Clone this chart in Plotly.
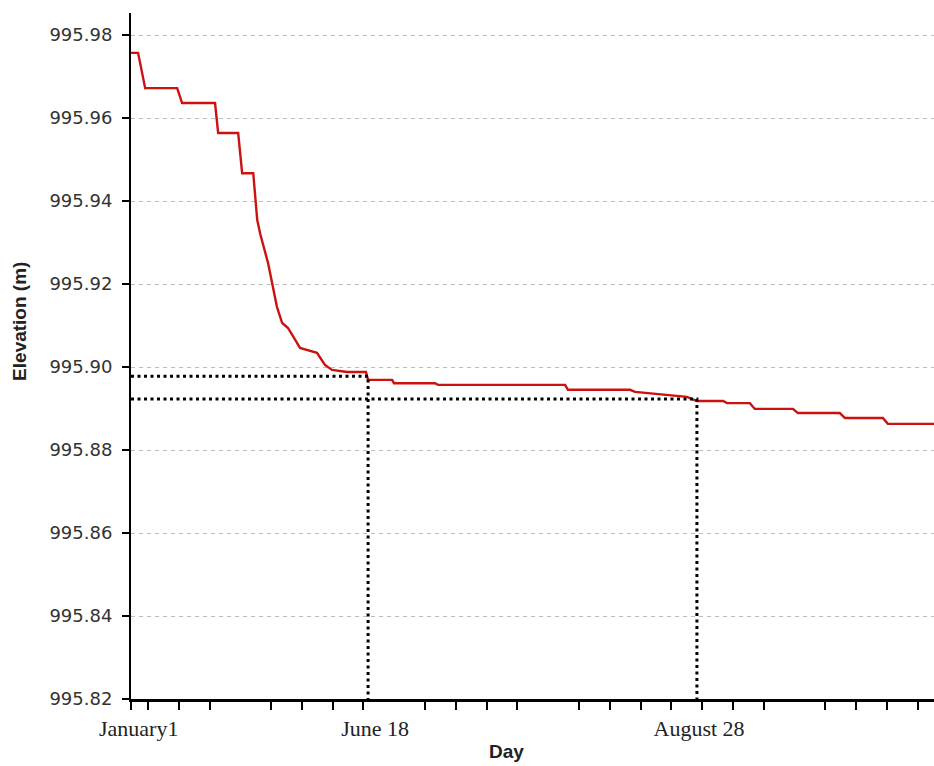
import plotly.graph_objects as go

# Reservoir elevation over the simulated days
days = [4.5, 6.8, 9.1, 19.5, 21.1, 31.8, 32.8, 39.3, 40.6, 44.2, 45.5, 46.5, 49.0, 51.9,
        53.6, 55.5, 59.4, 64.9, 67.5, 69.8, 74.7, 80.8, 81.5, 89.3, 89.9, 103.2, 104.2,
        145.5, 146.4, 166.6, 168.2, 177.3, 185.1, 188.3, 196.8, 198.1, 205.5, 207.1,
        219.5, 221.1, 234.7, 236.4, 248.7, 250.3, 265.3]
elevation = [995.9757, 995.9757, 995.9672, 995.9672, 995.9636, 995.9636, 995.9564,
             995.9564, 995.9467, 995.9467, 995.9354, 995.9320, 995.9251, 995.9145,
             995.9106, 995.9094, 995.9046, 995.9034, 995.9005, 995.8993, 995.8988,
             995.8988, 995.8969, 995.8969, 995.8961, 995.8961, 995.8957, 995.8957,
             995.8945, 995.8945, 995.8940, 995.8933, 995.8928, 995.8918, 995.8918,
             995.8913, 995.8913, 995.8899, 995.8899, 995.8889, 995.8889, 995.8877,
             995.8877, 995.8863, 995.8863]

marker_days = [81.5, 188.3]
marker_elev = [995.8978, 995.8923]

# Axis ticks
x_label_vals = [7.0, 83.8, 189.0]
x_label_text = ["January1", "June 18", "August 28"]
x_minor_vals = [4.6, 10, 20, 30, 50, 60, 70, 80, 100, 110, 120, 130, 150, 160, 170,
                180, 190, 200, 210, 230, 240, 250, 260]
y_tick_vals = [995.82, 995.84, 995.86, 995.88, 995.90, 995.92, 995.94, 995.96, 995.98]

x_range = [4.5, 265.3]
y_range = [995.82, 995.9853]

fig = go.Figure()

fig.add_trace(go.Scatter(
    x=days, y=elevation, mode="lines",
    line=dict(color="#cc1111", width=2.4),
    hoverinfo="skip", showlegend=False,
))

for d, e in zip(marker_days, marker_elev):
    fig.add_trace(go.Scatter(
        x=[x_range[0], d, d], y=[e, e, y_range[0]], mode="lines",
        line=dict(color="black", width=3, dash="3px,3.5px"),
        hoverinfo="skip", showlegend=False, cliponaxis=False,
    ))

fig.update_layout(
    width=934, height=766,
    margin=dict(l=131, r=0, t=13, b=67),
    paper_bgcolor="white", plot_bgcolor="white",
    xaxis=dict(
        range=x_range, showgrid=False, zeroline=False,
        showline=True, linecolor="black", linewidth=3,
        tickmode="array", tickvals=x_label_vals, ticktext=x_label_text,
        ticks="", ticklabelstandoff=8,
        tickfont=dict(family="Liberation Serif", size=22, color="#222"),
        minor=dict(tickmode="array", tickvals=x_minor_vals, ticks="outside",
                   ticklen=8, tickwidth=1.5, tickcolor="black", showgrid=False),
    ),
    yaxis=dict(
        range=y_range, zeroline=False,
        showline=True, linecolor="black", linewidth=2,
        tickmode="array", tickvals=y_tick_vals, tickformat=".2f",
        ticks="outside", ticklen=7, tickwidth=1.5, tickcolor="black",
        ticklabelstandoff=6,
        tickfont=dict(family="DejaVu Sans", size=18, color="#333"),
        showgrid=True, gridcolor="#bdbdbd", gridwidth=1, griddash="4px,4px",
    ),
    annotations=[
        dict(text="<b>Elevation (m)</b>", xref="paper", yref="paper",
             x=-0.138, y=0.55, textangle=-90, showarrow=False,
             xanchor="center", yanchor="middle",
             font=dict(family="Liberation Sans", size=19, color="#222")),
        dict(text="<b>Day</b>", xref="paper", yref="paper",
             x=0.468, y=-0.077, showarrow=False,
             xanchor="center", yanchor="middle",
             font=dict(family="Liberation Sans", size=19, color="#222")),
    ],
)

fig.write_html("out.html")
